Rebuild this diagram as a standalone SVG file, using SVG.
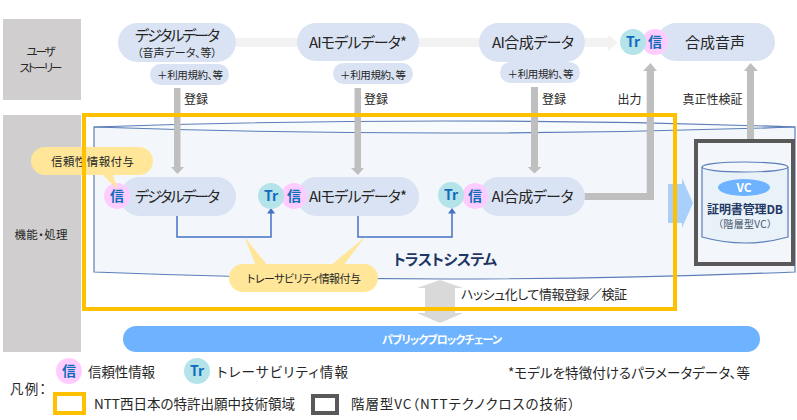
<svg xmlns="http://www.w3.org/2000/svg" width="797" height="420" viewBox="0 0 797 420">
<style>
text{font-family:"Noto Sans CJK JP","Noto Sans",sans-serif;fill:#262626;text-anchor:middle;font-feature-settings:"palt"}
.n{font-size:15px}.s{font-size:10.500px}.l{font-size:12px}.m{font-size:13.500px}
.pill{fill:#dae3f3}.side{fill:#d0cece}
.xin{fill:#ffccff}.xtr{fill:#b4e3ea}
.b{font-weight:700;fill:#0f6cbd;font-size:14px}
.call{fill:#ffe699}
.ga{fill:#bfbfbf}
.fl{fill:none;stroke:#4472c4;stroke-width:1.500}
</style>
<defs>
<g id="xin"><circle r="13" class="xin"/><text y="5" class="b">信</text></g>
<g id="xtr"><circle r="13" class="xtr"/><text y="5" class="b">Tr</text></g>
</defs>
<g id="lanes">
<rect x="3" y="19" width="78" height="81" class="side"/>
<rect x="3" y="115" width="78" height="237" class="side"/>
<text x="41" y="56" style="font-size:11.500px" textLength="29">ユーザ</text><text x="41" y="72" style="font-size:11.500px" textLength="43">ストーリー</text>
<text x="41" y="238.500" style="font-size:11.500px" textLength="53">機能・処理</text>
</g>
<g id="trust-system">
<path d="M94 127V272Q444 286 795 272V127Z" fill="#f3f7fc" stroke="#5b7db8" stroke-width="1.200"/>
<path d="M94 127Q444 115 795 127Q444 139 94 127Z" fill="#f8fbfe" stroke="#5b7db8" stroke-width="1.200"/>
<text x="445" y="265" style="font-size:15px;font-weight:700;fill:#1f3864" textLength="104">トラストシステム</text>
</g>
<g id="connectors">
<rect x="236" y="38" width="62" height="9" fill="#f2f2f2"/>
<rect x="418" y="38" width="62" height="9" fill="#f2f2f2"/>
<path d="M585 38H608V35L618 42.500L608 51V47H585Z" fill="#f2f2f2"/>
<g class="ga">
<path d="M174 88H180.500V167H184L177.500 174L171 167H174Z"/>
<path d="M354.500 88H361V168H364L358 175L351 168H354.500Z"/>
<path d="M531 87H538V167H541.500L534.500 173.500L527.700 167H531Z"/>
<path d="M578 193H646.700V71H643L650.500 63L657 71H654V200H578Z"/>
<path d="M750.500 63L744 71H747V150.700H744L750.500 158.700L758 150.700H754V71H758Z"/>
</g>
<path d="M668 184H682V178L693 203L682 228V223H668Z" fill="#a8d0fa"/>
<path d="M177 216V237H271V213" class="fl"/><path d="M271 208L267 213.500H275Z" fill="#4472c4"/>
<path d="M358 216V237H452V213" class="fl"/><path d="M452 208L448 213.500H456Z" fill="#4472c4"/>
<path d="M440 280L417 288H425V313H417L440 323L463 313H455V288H463Z" fill="#d9d9d9"/>
</g>
<g id="node-digital-top"><rect x="118" y="23" width="118" height="39" rx="19.500" class="pill"/><text x="177.500" y="41" class="n" textLength="85">デジタルデータ</text><text x="177" y="57" style="font-size:11px" textLength="80">（音声データ、等）</text></g>
<g id="node-terms1"><rect x="150" y="64" width="79" height="21" rx="10.500" class="pill"/><text x="190" y="79" class="s" textLength="66">＋利用規約、等</text></g>
<g id="node-ai-top"><rect x="297" y="23" width="122" height="38" rx="19" class="pill"/><text x="358" y="48" class="n" textLength="98">AIモデルデータ*</text></g>
<g id="node-terms2"><rect x="333" y="63" width="80" height="21" rx="10.500" class="pill"/><text x="373" y="78.500" class="s" textLength="66">＋利用規約、等</text></g>
<g id="node-gen-top"><rect x="479" y="23" width="106" height="39" rx="19.500" class="pill"/><text x="533" y="48" class="n" textLength="82">AI合成データ</text></g>
<g id="node-terms3"><rect x="500" y="62" width="80" height="21" rx="10.500" class="pill"/><text x="540.500" y="78" class="s" textLength="66">＋利用規約、等</text></g>
<g id="node-voice"><rect x="657" y="23" width="118" height="38" rx="19" class="pill"/><text x="715" y="48" class="n" textLength="60">合成音声</text></g>
<use href="#xin" x="655" y="42"/><use href="#xtr" x="633" y="42"/>
<g id="node-digital"><rect x="120" y="177" width="116" height="39" rx="19.500" class="pill"/><text x="177.500" y="202" class="n" textLength="85">デジタルデータ</text></g>
<use href="#xin" x="117" y="196"/>
<g id="node-ai"><rect x="297" y="177" width="122" height="39" rx="19.500" class="pill"/><use href="#xin" x="294" y="196"/><text x="358" y="202" class="n" textLength="98">AIモデルデータ*</text></g>
<use href="#xtr" x="271" y="196"/>
<g id="node-gen"><rect x="479" y="177" width="106" height="39" rx="19.500" class="pill"/><use href="#xin" x="475" y="196"/><text x="532.500" y="202" class="n" textLength="82">AI合成データ</text></g>
<use href="#xtr" x="451" y="195"/>
<g id="callout-trust"><path d="M100 172L118 190L112 172Z" class="call"/><rect x="31" y="147" width="122" height="28" rx="14" class="call"/><text x="92.500" y="165.500" style="font-size:11.500px" textLength="83">信頼性情報付与</text></g>
<g id="callout-trace"><path d="M244.500 237L256 266H268Z" class="call"/><path d="M365 237L330 266H343Z" class="call"/><rect x="229" y="264" width="149" height="28" rx="14" class="call"/><text x="304" y="282.500" style="font-size:11px" textLength="114">トレーサビリティ情報付与</text></g>
<g id="node-db">
<rect x="696" y="141" width="97" height="123" fill="#f3f7fc" stroke="#595959" stroke-width="4"/>
<path d="M702 167V237Q745 249 788 237V167" fill="#e9f1f9" stroke="#5b7db8" stroke-width="1.200"/>
<ellipse cx="745" cy="167" rx="43" ry="5" fill="#f3f7fc" stroke="#5b7db8" stroke-width="1.200"/>
<ellipse cx="744" cy="187.500" rx="26" ry="8.500" fill="#6db3ff"/>
<text x="744" y="192" style="font-size:12px;font-weight:700;fill:#fff">VC</text>
<text x="745" y="214" style="font-size:12px;font-weight:700;fill:#1f3864" textLength="76">証明書管理DB</text>
<text x="745" y="228" style="font-size:10px;fill:#44546a" textLength="54">（階層型VC）</text>
</g>
<g id="frame-patent"><rect x="84" y="115" width="591" height="194" fill="none" stroke="#ffc000" stroke-width="4"/></g>
<g id="edge-labels">
<text x="196" y="104" class="l">登録</text><text x="376" y="104" class="l">登録</text><text x="554" y="104" class="l">登録</text>
<text x="629.500" y="104" class="l">出力</text><text x="712.500" y="104" class="l">真正性検証</text>
<text x="544" y="299" style="font-size:13px" textLength="166">ハッシュ化して情報登録／検証</text>
</g>
<g id="node-chain"><rect x="123" y="326" width="637" height="26" rx="13" fill="#6db3ff"/><text x="442" y="344" style="font-size:11px;font-weight:700;fill:#fff" textLength="120">パブリックブロックチェーン</text></g>
<g id="legend">
<use href="#xin" x="69" y="371"/><text x="121.500" y="377" class="m" textLength="67">信頼性情報</text>
<use href="#xtr" x="197" y="371"/><text x="282.500" y="377" class="m" textLength="131">トレーサビリティ情報</text>
<text x="629" y="378" class="m" textLength="242">*モデルを特徴付けるパラメータデータ、等</text>
<text x="28" y="394" class="m" textLength="36">凡例：</text>
<rect x="55" y="394" width="29" height="19" fill="none" stroke="#ffc000" stroke-width="4"/>
<text x="194.500" y="409" class="m" textLength="201">NTT西日本の特許出願中技術領域</text>
<rect x="313" y="396" width="24" height="17" fill="none" stroke="#595959" stroke-width="4"/>
<text x="463" y="409" class="m" textLength="224">階層型VC（NTTテクノクロスの技術）</text>
</g>
</svg>
